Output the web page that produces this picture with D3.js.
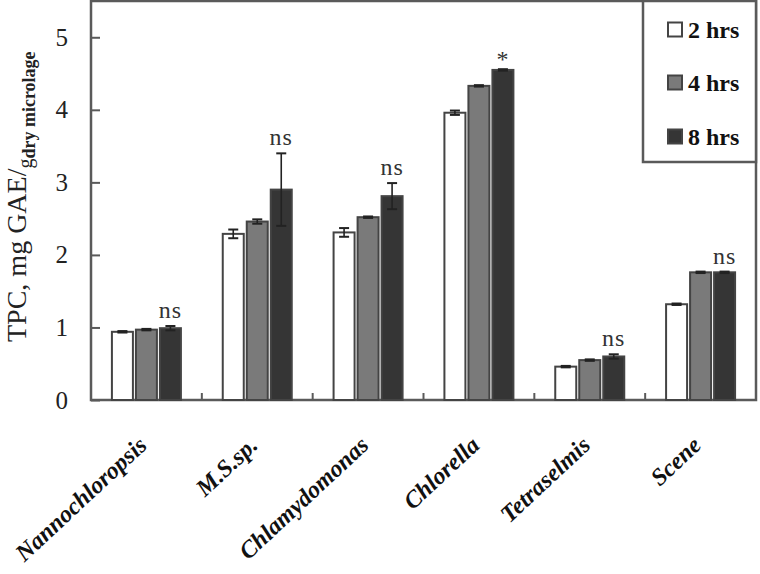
<!DOCTYPE html>
<html><head><meta charset="utf-8">
<script src="https://cdn.jsdelivr.net/npm/d3@7"></script>
<style>body{margin:0;background:#fff}svg{display:block}</style>
</head><body>
<script>
const categories = ["Nannochloropsis","M.S.sp.","Chlamydomonas","Chlorella","Tetraselmis","Scene"];
const seriesNames = ["2 hrs","4 hrs","8 hrs"];
const values2h = [0.94, 2.29, 2.31, 3.96, 0.46, 1.32];
const values4h = [0.97, 2.46, 2.52, 4.33, 0.55, 1.76];
const values8h = [0.99, 2.90, 2.81, 4.55, 0.60, 1.76];
const err2h = [0.01, 0.06, 0.06, 0.03, 0.01, 0.01];
const err4h = [0.01, 0.03, 0.01, 0.01, 0.01, 0.01];
const err8h = [0.03, 0.50, 0.18, 0.01, 0.03, 0.01];
const annotations = ["ns","ns","ns","*","ns","ns"];
const yTicks = [0,1,2,3,4,5];

const W = 760, H = 574;
const fill = ["#ffffff","#7a7a7a","#353535"];
const svg = d3.select("body").append("svg").attr("width",W).attr("height",H)
  .style("font-family","'Liberation Serif','Times New Roman',serif");

const pL = 91, pR = 756, pT = 1, pB = 400;
const x = d3.scaleBand().domain(categories).range([pL,pR]);
const xs = d3.scaleBand().domain(seriesNames).range([-34.5,34.5]).paddingInner(0.125);
const y = d3.scaleLinear().domain([0,5.5]).range([pB,pT]);

const series = [values2h, values4h, values8h];
const errs = [err2h, err4h, err8h];
const rows = [];
categories.forEach((c,i)=>seriesNames.forEach((s,j)=>rows.push({c,s,j,v:series[j][i],e:errs[j][i]})));

// frame
svg.append("rect").attr("x",pL).attr("y",pT).attr("width",pR-pL).attr("height",pB-pT)
  .attr("fill","none").attr("stroke","#5a5a5a").attr("stroke-width",2.5);

// y axis
const ya = svg.append("g").attr("transform",`translate(${pL},0)`)
  .call(d3.axisLeft(y).tickValues(yTicks).tickSizeInner(-9).tickSizeOuter(0).tickPadding(23).tickFormat(d3.format("d")));
ya.select(".domain").remove();
ya.selectAll("line").attr("stroke","#5a5a5a").attr("stroke-width",2);
ya.selectAll("text").attr("font-size",25).attr("fill","#222").attr("font-family","'Liberation Serif',serif");

// x minor ticks at boundaries
const bounds = categories.slice(1).map(c=>x(c));
svg.selectAll(".bt").data(bounds).join("line")
  .attr("x1",d=>d).attr("x2",d=>d).attr("y1",pB).attr("y2",pB-7)
  .attr("stroke","#5a5a5a").attr("stroke-width",2);

// bars
svg.selectAll(".bar").data(rows).join("rect")
  .attr("x",d=>x(d.c)+x.bandwidth()/2+xs(d.s))
  .attr("y",d=>y(d.v)).attr("width",xs.bandwidth()).attr("height",d=>pB-y(d.v))
  .attr("fill",d=>fill[d.j]).attr("stroke","#444").attr("stroke-width",2);

// error bars
const eg = svg.selectAll(".err").data(rows).join("g")
  .attr("transform",d=>`translate(${x(d.c)+x.bandwidth()/2+xs(d.s)+xs.bandwidth()/2},0)`);
eg.append("line").attr("y1",d=>y(d.v+d.e)).attr("y2",d=>y(d.v-d.e)).attr("stroke","#222").attr("stroke-width",1.6);
eg.append("line").attr("x1",-5).attr("x2",5).attr("y1",d=>y(d.v+d.e)).attr("y2",d=>y(d.v+d.e)).attr("stroke","#222").attr("stroke-width",2);
eg.append("line").attr("x1",-5).attr("x2",5).attr("y1",d=>y(d.v-d.e)).attr("y2",d=>y(d.v-d.e)).attr("stroke","#222").attr("stroke-width",2);

// annotations
svg.selectAll(".ann").data(categories).join("text")
  .attr("x",(c)=>x(c)+x.bandwidth()/2+xs("8 hrs")+xs.bandwidth()/2)
  .attr("y",(c,i)=>y(values8h[i]+err8h[i]) - (annotations[i]==="*"?2:8))
  .attr("text-anchor","middle").attr("font-size",24).attr("fill","#333")
  .attr("letter-spacing",1)
  .text((c,i)=>annotations[i]);

// x labels
svg.selectAll(".xl").data(categories).join("text")
  .attr("transform",c=>`translate(${x(c)+x.bandwidth()/2+2},447) rotate(-43)`)
  .attr("text-anchor","end").attr("font-size",24).attr("font-style","italic").attr("font-weight","bold")
  .attr("fill","#111").text(c=>c);

// y label
const yl = svg.append("text").attr("transform","translate(26,342) rotate(-90)")
  .attr("font-size",28).attr("fill","#222");
yl.append("tspan").text("TPC, mg GAE/");
yl.append("tspan").attr("dy",6).attr("font-size",20).text("g");
yl.append("tspan").attr("dy",3).attr("font-size",18).attr("font-weight","bold").text("dry microlage");

// legend
const lg = svg.append("g");
lg.append("rect").attr("x",643).attr("y",pT).attr("width",pR-643).attr("height",161)
  .attr("fill","#fff").attr("stroke","#5a5a5a").attr("stroke-width",2.5);
const ly = [30,83,137];
seriesNames.forEach((s,j)=>{
  lg.append("rect").attr("x",668).attr("y",ly[j]-7.5).attr("width",14).attr("height",14)
    .attr("fill",fill[j]).attr("stroke","#444").attr("stroke-width",2);
  lg.append("text").attr("x",688).attr("y",ly[j]+8).attr("font-size",24).attr("fill","#111")
    .attr("font-weight","bold").text(s);
});
</script>
</body></html>
